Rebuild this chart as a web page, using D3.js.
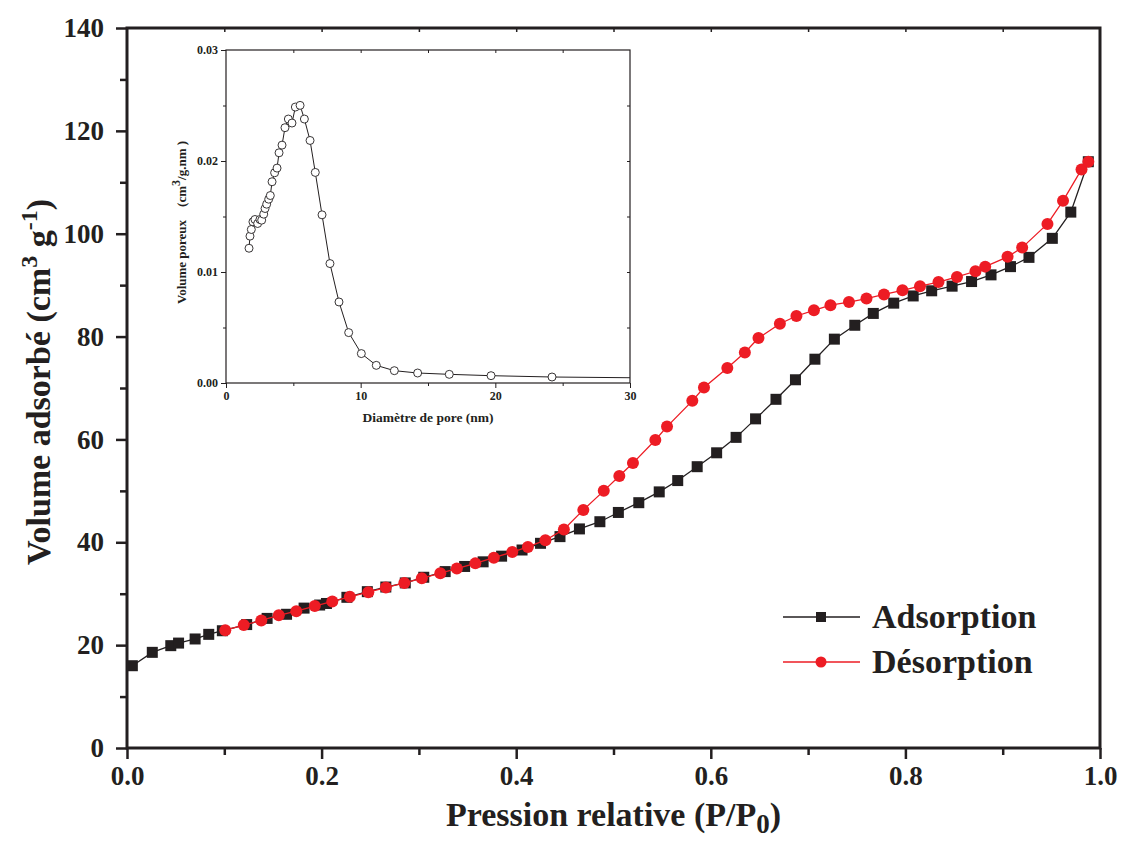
<!DOCTYPE html>
<html>
<head>
<meta charset="utf-8">
<script src="https://cdn.jsdelivr.net/npm/d3@7"></script>
<style>
  body { margin: 0; background: #fff; }
  text { font-family: "Liberation Serif", "Times New Roman", serif; font-weight: bold; fill: #231f20; }
</style>
</head>
<body>
<div id="chart"></div>
<script>
// adsorption branch (relative pressure, volume adsorbed)
const adsP = [0.0055, 0.026, 0.045, 0.053, 0.070, 0.084, 0.098, 0.123, 0.144, 0.164, 0.182, 0.198, 0.205,
  0.226, 0.247, 0.266, 0.286, 0.305, 0.327, 0.347, 0.366, 0.385, 0.406, 0.425, 0.445, 0.465, 0.486, 0.505,
  0.526, 0.547, 0.566, 0.586, 0.606, 0.626, 0.646, 0.667, 0.687, 0.707, 0.727, 0.748, 0.767, 0.788, 0.808,
  0.827, 0.848, 0.868, 0.888, 0.908, 0.927, 0.951, 0.970, 0.988];
const adsV = [16.0, 18.6, 19.9, 20.4, 21.2, 22.1, 22.8, 24.0, 25.2, 26.0, 27.2, 27.8, 28.1,
  29.3, 30.4, 31.3, 32.1, 33.2, 34.3, 35.3, 36.2, 37.3, 38.5, 39.8, 41.1, 42.6, 44.0, 45.8,
  47.7, 49.8, 52.0, 54.7, 57.4, 60.4, 64.0, 67.8, 71.6, 75.6, 79.5, 82.2, 84.5, 86.5, 87.9,
  88.9, 89.8, 90.7, 92.0, 93.6, 95.4, 99.1, 104.2, 114.0];

// desorption branch
const desP = [0.101, 0.120, 0.138, 0.156, 0.174, 0.193, 0.211, 0.229, 0.248, 0.266, 0.285, 0.303, 0.322,
  0.339, 0.358, 0.377, 0.396, 0.412, 0.430, 0.449, 0.469, 0.490, 0.506, 0.520, 0.543, 0.555, 0.581, 0.593,
  0.617, 0.635, 0.649, 0.671, 0.688, 0.706, 0.723, 0.742, 0.760, 0.778, 0.797, 0.815, 0.834, 0.853, 0.872,
  0.882, 0.905, 0.920, 0.946, 0.962, 0.981, 0.988];
const desV = [22.9, 23.9, 24.8, 25.8, 26.6, 27.6, 28.5, 29.4, 30.3, 31.2, 32.1, 33.0, 34.0,
  34.9, 35.9, 37.0, 38.1, 39.1, 40.4, 42.5, 46.3, 50.0, 52.9, 55.4, 59.9, 62.5, 67.5, 70.1,
  73.9, 76.9, 79.7, 82.5, 84.0, 85.1, 86.1, 86.7, 87.4, 88.2, 89.0, 89.8, 90.6, 91.6, 92.7,
  93.6, 95.5, 97.3, 101.9, 106.4, 112.5, 114.0];

// inset: pore size distribution (nm, cm3/g.nm)
const poreD = [1.71, 1.78, 1.88, 2.00, 2.15, 2.35, 2.52, 2.65, 2.80, 2.90, 3.02, 3.17, 3.29, 3.42, 3.61,
  3.79, 3.94, 4.16, 4.38, 4.63, 4.90, 5.15, 5.50, 5.82, 6.24, 6.63, 7.13, 7.72, 8.39, 9.11, 10.05,
  11.16, 12.5, 14.23, 16.58, 19.68, 24.21, 33.0];
const poreV = [0.01214, 0.01323, 0.01383, 0.01452, 0.01473, 0.01437, 0.01473, 0.01467, 0.01521, 0.01572,
  0.01611, 0.01656, 0.01689, 0.01813, 0.01894, 0.01936, 0.02074, 0.02143, 0.02300, 0.02378, 0.02342,
  0.02486, 0.02501, 0.02378, 0.02185, 0.01897, 0.01515, 0.01076, 0.00730, 0.00454, 0.00265, 0.00159,
  0.00111, 0.00090, 0.00078, 0.00066, 0.00054, 0.00044];

const xTicks = [0, 0.2, 0.4, 0.6, 0.8, 1.0];
const yTicks = [0, 20, 40, 60, 80, 100, 120, 140];
const insetXTicks = [0, 10, 20, 30];
const insetYTicks = [0, 0.01, 0.02, 0.03];

const RED = "#ed1c24";
const INK = "#231f20";

const W = 1121, H = 842;
const margin = { top: 28, right: 21, bottom: 94, left: 127 };
const width = W - margin.left - margin.right,
  height = H - margin.top - margin.bottom;

const svg = d3.select("#chart").append("svg")
  .attr("width", W).attr("height", H);

const g = svg.append("g")
  .attr("transform", "translate(" + margin.left + "," + margin.top + ")");

const x = d3.scaleLinear().domain([0, 1]).range([0, width]);
const y = d3.scaleLinear().domain([0, 140]).range([height, 0]);

// minor ticks first, then major ticks with labels
g.append("g")
  .attr("transform", "translate(0," + height + ")")
  .call(d3.axisBottom(x).tickValues(d3.range(0.1, 1, 0.2)).tickSize(7).tickFormat(""))
  .call(a => a.select(".domain").remove())
  .selectAll("line").attr("stroke", INK).attr("stroke-width", 2.5);
g.append("g")
  .attr("transform", "translate(0," + height + ")")
  .call(d3.axisBottom(x).tickValues(xTicks).tickSize(11).tickPadding(7).tickFormat(d3.format(".1f")))
  .call(a => a.select(".domain").remove())
  .call(a => a.selectAll("line").attr("stroke", INK).attr("stroke-width", 2.5))
  .call(a => a.selectAll("text").attr("font-size", 27).attr("fill", INK)
    .style("font-family", "'Liberation Serif', serif").style("font-weight", "bold"));

g.append("g")
  .call(d3.axisLeft(y).tickValues(d3.range(10, 140, 20)).tickSize(7).tickFormat(""))
  .call(a => a.select(".domain").remove())
  .selectAll("line").attr("stroke", INK).attr("stroke-width", 2.5);
g.append("g")
  .call(d3.axisLeft(y).tickValues(yTicks).tickSize(11).tickPadding(12))
  .call(a => a.select(".domain").remove())
  .call(a => a.selectAll("line").attr("stroke", INK).attr("stroke-width", 2.5))
  .call(a => a.selectAll("text").attr("font-size", 27).attr("fill", INK)
    .style("font-family", "'Liberation Serif', serif").style("font-weight", "bold"));

// small inward ticks on top
g.append("g")
  .call(d3.axisTop(x).tickValues(d3.range(0.1, 1, 0.1)).tickSize(-4).tickFormat(""))
  .call(a => a.select(".domain").remove())
  .selectAll("line").attr("stroke", INK).attr("stroke-width", 1.5);

// frame
g.append("rect")
  .attr("width", width).attr("height", height)
  .attr("fill", "none").attr("stroke", INK).attr("stroke-width", 3);

// axis titles
svg.append("text")
  .attr("x", margin.left + width / 2).attr("y", 826)
  .attr("text-anchor", "middle").attr("font-size", 34)
  .call(t => {
    t.append("tspan").text("Pression relative (P/P");
    t.append("tspan").attr("dy", 7).attr("font-size", 27).text("0");
    t.append("tspan").attr("dy", -7).text(")");
  });

svg.append("text")
  .attr("transform", "translate(50," + (margin.top + height / 2 - 6) + ") rotate(-90)")
  .attr("text-anchor", "middle").attr("font-size", 34)
  .call(t => {
    t.append("tspan").text("Volume adsorbé (cm");
    t.append("tspan").attr("dy", -13).attr("font-size", 24).text("3");
    t.append("tspan").attr("dy", 13).text(" g");
    t.append("tspan").attr("dy", -13).attr("font-size", 24).text("-1");
    t.append("tspan").attr("dy", 13).text(")");
  });

// series
const adsData = adsP.map((p, i) => [p, adsV[i]]);
const desData = desP.map((p, i) => [p, desV[i]]);
const line = d3.line().x(d => x(d[0])).y(d => y(d[1]));

g.append("path").datum(adsData).attr("d", line)
  .attr("fill", "none").attr("stroke", INK).attr("stroke-width", 1.3);
g.selectAll(".ads").data(adsData).enter().append("rect")
  .attr("class", "ads")
  .attr("x", d => x(d[0]) - 5.5).attr("y", d => y(d[1]) - 5.5)
  .attr("width", 11).attr("height", 11).attr("fill", INK);

g.append("path").datum(desData).attr("d", line)
  .attr("fill", "none").attr("stroke", RED).attr("stroke-width", 1.3);
g.selectAll(".des").data(desData).enter().append("circle")
  .attr("class", "des")
  .attr("cx", d => x(d[0])).attr("cy", d => y(d[1])).attr("r", 6)
  .attr("fill", RED);

// legend
const legend = svg.append("g").attr("transform", "translate(783,617)");
const legendItems = [["Adsorption", INK, "square"], ["Désorption", RED, "circle"]];
legendItems.forEach((it, i) => {
  const row = legend.append("g").attr("transform", "translate(0," + (i * 45) + ")");
  row.append("line").attr("x1", 0).attr("x2", 77).attr("stroke", it[1]).attr("stroke-width", 1.3);
  if (it[2] === "square") {
    row.append("rect").attr("x", 33).attr("y", -5).attr("width", 10).attr("height", 10).attr("fill", it[1]);
  } else {
    row.append("circle").attr("cx", 38).attr("r", 5.5).attr("fill", it[1]);
  }
  row.append("text").attr("x", 89).attr("y", 11).attr("font-size", 34).text(it[0]);
});

// inset
const inset = { left: 226, top: 50, width: 404, height: 333 };
const ig = svg.append("g").attr("transform", "translate(" + inset.left + "," + inset.top + ")");
const ix = d3.scaleLinear().domain([0, 30]).range([0, inset.width]);
const iy = d3.scaleLinear().domain([0, 0.03]).range([inset.height, 0]);

ig.append("g").attr("transform", "translate(0," + inset.height + ")")
  .call(d3.axisBottom(ix).tickValues([5, 15, 25]).tickSize(3).tickFormat(""))
  .call(a => a.select(".domain").remove())
  .selectAll("line").attr("stroke", INK);
ig.append("g").attr("transform", "translate(0," + inset.height + ")")
  .call(d3.axisBottom(ix).tickValues(insetXTicks).tickSize(5).tickPadding(3))
  .call(a => a.select(".domain").remove())
  .call(a => a.selectAll("line").attr("stroke", INK))
  .call(a => a.selectAll("text").attr("font-size", 12).attr("fill", INK)
    .style("font-family", "'Liberation Serif', serif").style("font-weight", "bold"));
ig.append("g")
  .call(d3.axisLeft(iy).tickValues([0.005, 0.015, 0.025]).tickSize(3).tickFormat(""))
  .call(a => a.select(".domain").remove())
  .selectAll("line").attr("stroke", INK);
ig.append("g")
  .call(d3.axisLeft(iy).tickValues(insetYTicks).tickSize(5).tickPadding(3).tickFormat(d3.format(".2f")))
  .call(a => a.select(".domain").remove())
  .call(a => a.selectAll("line").attr("stroke", INK))
  .call(a => a.selectAll("text").attr("font-size", 12).attr("fill", INK)
    .style("font-family", "'Liberation Serif', serif").style("font-weight", "bold"));
ig.append("g")
  .call(d3.axisTop(ix).tickValues(d3.range(5, 30, 5)).tickSize(-3).tickFormat(""))
  .call(a => a.select(".domain").remove())
  .selectAll("line").attr("stroke", INK);
ig.append("g").attr("transform", "translate(" + inset.width + ",0)")
  .call(d3.axisRight(iy).tickValues(d3.range(0.005, 0.03, 0.005)).tickSize(-3).tickFormat(""))
  .call(a => a.select(".domain").remove())
  .selectAll("line").attr("stroke", INK);
ig.append("rect").attr("width", inset.width).attr("height", inset.height)
  .attr("fill", "none").attr("stroke", INK).attr("stroke-width", 1.2);

ig.append("clipPath").attr("id", "inset-clip")
  .append("rect").attr("width", inset.width).attr("height", inset.height);

const poreData = poreD.map((d, i) => [d, poreV[i]]);
ig.append("path").datum(poreData)
  .attr("clip-path", "url(#inset-clip)")
  .attr("d", d3.line().x(d => ix(d[0])).y(d => iy(d[1])))
  .attr("fill", "none").attr("stroke", INK).attr("stroke-width", 1);
ig.selectAll(".pore").data(poreData.filter(d => d[0] <= 30)).enter().append("circle")
  .attr("class", "pore")
  .attr("cx", d => ix(d[0])).attr("cy", d => iy(d[1])).attr("r", 4)
  .attr("fill", "#fff").attr("stroke", INK).attr("stroke-width", 0.9);

ig.append("text")
  .attr("x", inset.width / 2).attr("y", 372)
  .attr("text-anchor", "middle").attr("font-size", 13.5)
  .text("Diamètre de pore (nm)");

ig.append("text")
  .attr("transform", "translate(-40," + (inset.height / 2 + 6) + ") rotate(-90)")
  .attr("text-anchor", "middle").attr("font-size", 13)
  .attr("xml:space", "preserve")
  .call(t => {
    t.append("tspan").text("Volume poreux\u00a0\u00a0\u00a0\u00a0(cm");
    t.append("tspan").attr("dy", -6).attr("font-size", 12).text("3");
    t.append("tspan").attr("dy", 6).text("/g.nm )");
  });
</script>
</body>
</html>
